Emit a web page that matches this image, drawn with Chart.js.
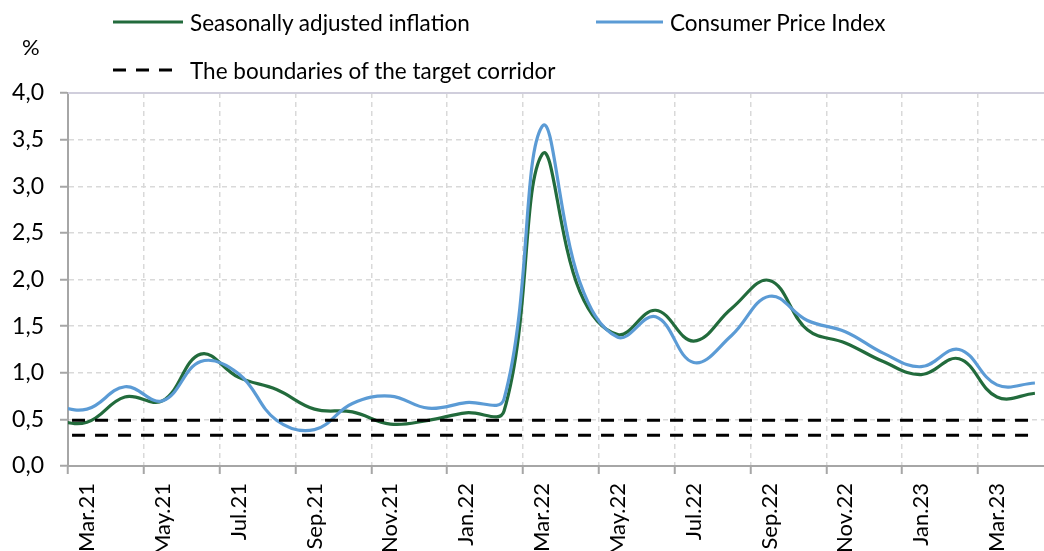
<!DOCTYPE html>
<html>
<head>
<meta charset="utf-8">
<title>Inflation</title>
<script src="https://cdn.jsdelivr.net/npm/chart.js@4.4.1/dist/chart.umd.min.js"></script>
<style>
    body { margin: 0; background: #fff; overflow: hidden; font-family: Lato, sans-serif; }
    #wrap { position: relative; width: 1044px; height: 551px; }
    #chart { position: absolute; left: 0; top: 0; }
    .leg { position: absolute; height: 26px; display: flex; align-items: center; font-size: 22.5px; color: #000; white-space: nowrap; }
    .leg svg { margin-right: 7px; }
    #unit { position: absolute; left: 22px; top: 33px; font-size: 22px; }
</style>
</head>
<body>
<div id="wrap">
    <canvas id="chart" width="1044" height="551"></canvas>
    <div class="leg" style="left:113px; top:9px;">
        <svg width="70" height="6"><line x1="0" y1="3" x2="70" y2="3" stroke="#226b3c" stroke-width="3"/></svg>
        Seasonally adjusted inflation
    </div>
    <div class="leg" style="left:596px; top:9px;">
        <svg width="67" height="6"><line x1="0" y1="3" x2="67" y2="3" stroke="#5b9bd5" stroke-width="3"/></svg>
        Consumer Price Index
    </div>
    <div class="leg" style="left:113px; top:57px;">
        <svg width="70" height="6"><line x1="0" y1="3" x2="59" y2="3" stroke="#000" stroke-width="3" stroke-dasharray="13 10"/></svg>
        The boundaries of the target corridor
    </div>
    <div id="unit">%</div>
</div>

<script>
// 월별 라벨 (Feb.21은 왼쪽 축 밖으로 잘림)
const months = ['Feb.21', 'Mar.21', 'Apr.21', 'May.21', 'Jun.21', 'Jul.21', 'Aug.21', 'Sep.21', 'Oct.21',
    'Nov.21', 'Dec.21', 'Jan.22', 'Feb.22', 'Mar.22', 'Apr.22', 'May.22', 'Jun.22', 'Jul.22', 'Aug.22',
    'Sep.22', 'Oct.22', 'Nov.22', 'Dec.22', 'Jan.23', 'Feb.23', 'Mar.23', 'Apr.23'];

// 계절조정 인플레이션 (%)
const seasonallyAdjusted = [0.50, 0.47, 0.74, 0.70, 1.20, 0.95, 0.82, 0.61, 0.58, 0.45, 0.49, 0.57, 0.59,
    3.34, 1.87, 1.41, 1.67, 1.34, 1.69, 1.99, 1.46, 1.32, 1.12, 0.98, 1.15, 0.74, 0.78];

// 소비자물가지수 (%)
const cpi = [0.66, 0.61, 0.85, 0.70, 1.12, 0.99, 0.49, 0.39, 0.67, 0.75, 0.62, 0.68, 0.72,
    3.64, 1.97, 1.38, 1.60, 1.11, 1.40, 1.82, 1.56, 1.44, 1.21, 1.065, 1.25, 0.87, 0.89];

// 목표 범위 경계
const corridorUpper = 0.49;
const corridorLower = 0.33;

const yTicks = [0, 0.5, 1, 1.5, 2, 2.5, 3, 3.5, 4];

const toPoints = arr => arr.map((v, i) => ({ x: i, y: v }));
const flatLine = v => [{ x: 0, y: v }, { x: months.length - 1, y: v }];

const axisGrey = '#a6a6a6';
const gridGrey = '#d9d9d9';

// 상단 테두리 선
const topBorder = {
    id: 'topBorder',
    afterDraw(chart) {
        const { ctx, chartArea } = chart;
        ctx.save();
        ctx.strokeStyle = '#d0cedc';
        ctx.lineWidth = 2;
        ctx.beginPath();
        ctx.moveTo(chartArea.left, chartArea.top);
        ctx.lineTo(chartArea.right, chartArea.top);
        ctx.stroke();
        ctx.restore();
    }
};

new Chart(document.getElementById('chart'), {
    type: 'line',
    data: {
        datasets: [
            { data: flatLine(corridorUpper), borderColor: '#000', borderWidth: 3, borderDash: [13, 10], pointRadius: 0, tension: 0 },
            { data: flatLine(corridorLower), borderColor: '#000', borderWidth: 3, borderDash: [13, 10], pointRadius: 0, tension: 0 },
            { data: toPoints(cpi), borderColor: '#5b9bd5', borderWidth: 3.2, pointRadius: 0, tension: 0.4 },
            { data: toPoints(seasonallyAdjusted), borderColor: '#226b3c', borderWidth: 3.2, pointRadius: 0, tension: 0.4 }
        ]
    },
    options: {
        responsive: false,
        animation: false,
        layout: { padding: { top: 93, right: 0, bottom: 0, left: 0 } },
        plugins: { legend: { display: false }, tooltip: { enabled: false } },
        scales: {
            x: {
                type: 'linear',
                position: 'bottom',
                weight: 0,
                min: 0.5,
                max: 26.24,
                afterBuildTicks: axis => {
                    const t = [];
                    for (let i = 0; i < months.length; i += 2) t.push({ value: i + 0.5 });
                    axis.ticks = t;
                },
                ticks: { display: false },
                grid: { color: gridGrey, lineWidth: 1.5, tickLength: 8, tickColor: axisGrey, tickWidth: 2 },
                border: { color: axisGrey, width: 2, dash: [5, 4] }
            },
            xLabels: {
                type: 'linear',
                position: 'bottom',
                weight: 1,
                min: 0.5,
                max: 26.24,
                afterBuildTicks: axis => {
                    const t = [];
                    for (let i = 1; i < months.length; i += 2) t.push({ value: i });
                    axis.ticks = t;
                },
                afterFit: axis => { axis.height = 77; },
                ticks: {
                    autoSkip: false,
                    minRotation: 90,
                    maxRotation: 90,
                    padding: 1,
                    color: '#000',
                    font: { family: 'Lato', size: 22 },
                    callback: value => months[value]
                },
                grid: { display: false },
                border: { display: false }
            },
            y: {
                min: 0,
                max: 4,
                afterBuildTicks: axis => { axis.ticks = yTicks.map(v => ({ value: v })); },
                afterFit: axis => { axis.width = 68; },
                ticks: {
                    padding: 16,
                    color: '#000',
                    font: { family: 'Lato', size: 23 },
                    callback: value => value.toFixed(1).replace('.', ',')
                },
                grid: { color: gridGrey, lineWidth: 1.5, tickLength: 8, tickColor: axisGrey, tickWidth: 2 },
                border: { color: axisGrey, width: 2, dash: [5, 4] }
            }
        }
    },
    plugins: [topBorder]
});
</script>
</body>
</html>
